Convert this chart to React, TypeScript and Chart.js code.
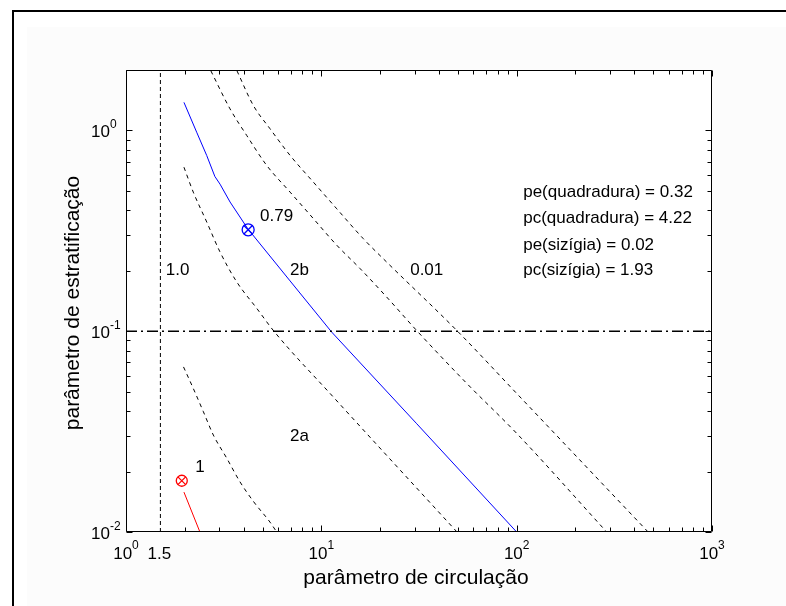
import React, { useEffect, useRef } from "react";
import { Chart, registerables } from "chart.js";
Chart.register(...registerables);

const X_MIN = 1;
const X_MAX = 1000;
const Y_MIN = 0.01;
const Y_MAX = 2;

const xMajorTicks = [1, 10, 100, 1000];
const xMajorExp = ["0", "1", "2", "3"];
const xExtraTicks = [1.5];
const xExtraLabels = ["1.5"];
const yMajorTicks = [0.01, 0.1, 1];
const yMajorExp = ["-2", "-1", "0"];

const xTitle = "parâmetro de circulação";
const yTitle = "parâmetro de estratificação";

// measured blue curve (quadratura)
const blueX = [1.98, 2.3, 2.59, 2.85, 3.03, 3.41, 4.2, 6.92, 11.3, 30.8, 100];
const blueY = [1.38, 0.98, 0.75, 0.59, 0.54, 0.44, 0.324, 0.178, 0.099, 0.0346, 0.01];

// red segment (sizígia)
const redX = [1.98, 2.39];
const redY = [0.0158, 0.01];

// dashed nu curves
const curveAx = [1.97, 2.21, 2.49, 2.8, 3.28, 3.83, 4.49, 5.46, 5.91];
const curveAy = [0.0664, 0.0519, 0.0397, 0.0304, 0.0233, 0.0178, 0.0142, 0.0112, 0.01];
const curveBx = [1.98, 2.21, 2.59, 3.03, 3.69, 4.67, 5.72, 11.5, 49.5];
const curveBy = [0.656, 0.493, 0.35, 0.248, 0.176, 0.13, 0.1, 0.0471, 0.01];
const curveCx = [2.72, 3.41, 4.15, 5.25, 6.92, 9.1, 12.0, 15.8, 21.6, 31, 55.5, 100, 289];
const curveCy = [1.98, 1.28, 0.944, 0.67, 0.493, 0.364, 0.268, 0.205, 0.148, 0.1, 0.055, 0.031, 0.01];
const curveDx = [3.7, 4.49, 5.46, 6.92, 9.1, 12.0, 16.4, 21.6, 49.8, 100, 471];
const curveDy = [1.98, 1.33, 1.02, 0.751, 0.553, 0.407, 0.289, 0.221, 0.1, 0.049, 0.01];

// reference lines
const vLineX = 1.5;
const hLineY = 0.1;

// markers
const quadX = 4.22;
const quadY = 0.32;
const sizX = 1.93;
const sizY = 0.018;

// text annotations (left-aligned at data coords)
const annText = ["1.0", "0.79", "2b", "0.01", "2a", "1"];
const annX = [1.6, 4.86, 6.92, 28.5, 6.92, 2.26];
const annY = [0.2, 0.373, 0.2, 0.2, 0.03, 0.0211];

const legendText = [
  "pe(quadradura) = 0.32",
  "pc(quadradura) = 4.22",
  "pe(sizígia) = 0.02",
  "pc(sizígia) = 1.93",
];
const legendX = 108;
const legendY = [0.493, 0.366, 0.268, 0.201];

const FONT = '"Liberation Sans", Arial, Helvetica, sans-serif';

const zip = (xs: number[], ys: number[]) => xs.map((x, i) => ({ x, y: ys[i] }));

const dashed = (xs: number[], ys: number[]) => ({
  data: zip(xs, ys),
  showLine: true,
  borderColor: "#000",
  borderWidth: 1,
  borderDash: [4, 4],
  pointRadius: 0,
  cubicInterpolationMode: "monotone",
  fill: false,
});

const overlay = {
  id: "overlay",
  beforeDraw(chart: any) {
    const { ctx, chartArea } = chart;
    ctx.save();
    ctx.fillStyle = "#ffffff";
    ctx.fillRect(chartArea.left, chartArea.top, chartArea.right - chartArea.left, chartArea.bottom - chartArea.top);
    ctx.restore();
  },
  afterDraw(chart: any) {
    const { ctx, chartArea } = chart;
    const { left, right, top, bottom } = chartArea;
    const xs = chart.scales.x;
    const ys = chart.scales.y;
    ctx.save();
    ctx.strokeStyle = "#000";
    ctx.lineWidth = 1;
    const L = Math.round(left) + 0.5;
    const R = Math.round(right) - 0.5;
    const T = Math.round(top) + 0.5;
    const B = Math.round(bottom) - 0.5;
    ctx.beginPath();
    ctx.rect(L, T, R - L, B - T);
    ctx.stroke();

    const tick = (px: number, len: number, horiz: boolean) => {
      const p = Math.round(px) + 0.5;
      ctx.beginPath();
      if (horiz) {
        ctx.moveTo(p, B);
        ctx.lineTo(p, B - len);
        ctx.moveTo(p, T);
        ctx.lineTo(p, T + len);
      } else {
        ctx.moveTo(L, p);
        ctx.lineTo(L + len, p);
        ctx.moveTo(R, p);
        ctx.lineTo(R - len, p);
      }
      ctx.stroke();
    };
    for (let d = 1; d < X_MAX; d *= 10) {
      for (let m = 2; m <= 9; m++) tick(xs.getPixelForValue(d * m), 4, true);
    }
    xMajorTicks.forEach((v) => tick(xs.getPixelForValue(v), 6, true));
    for (let d = Y_MIN; d < Y_MAX; d *= 10) {
      for (let m = 2; m <= 9; m++) {
        if (d * m <= Y_MAX) tick(ys.getPixelForValue(d * m), 4, false);
      }
    }
    yMajorTicks.forEach((v) => tick(ys.getPixelForValue(v), 6, false));

    ctx.fillStyle = "#000";
    ctx.textBaseline = "alphabetic";
    ctx.textAlign = "left";
    // x tick labels
    xMajorTicks.forEach((v, i) => {
      const px = xs.getPixelForValue(v);
      ctx.font = `17px ${FONT}`;
      const w1 = ctx.measureText("10").width;
      ctx.font = `12px ${FONT}`;
      const w2 = ctx.measureText(xMajorExp[i]).width;
      const start = px - (w1 + w2) / 2;
      ctx.font = `17px ${FONT}`;
      ctx.fillText("10", start, bottom + 27);
      ctx.font = `12px ${FONT}`;
      ctx.fillText(xMajorExp[i], start + w1, bottom + 17);
    });
    xExtraTicks.forEach((v, i) => {
      const px = xs.getPixelForValue(v);
      ctx.font = `17px ${FONT}`;
      ctx.textAlign = "center";
      ctx.fillText(xExtraLabels[i], px - 1, bottom + 27);
      ctx.textAlign = "left";
    });
    // y tick labels
    yMajorTicks.forEach((v, i) => {
      const py = ys.getPixelForValue(v);
      ctx.font = `17px ${FONT}`;
      const w1 = ctx.measureText("10").width;
      const start = left - 35;
      ctx.fillText("10", start, py + 6.5);
      ctx.font = `12px ${FONT}`;
      ctx.fillText(yMajorExp[i], start + w1, py - 2);
    });

    // annotations
    ctx.font = `17px ${FONT}`;
    ctx.textBaseline = "middle";
    annText.forEach((t, i) => {
      ctx.fillText(t, xs.getPixelForValue(annX[i]), ys.getPixelForValue(annY[i]));
    });
    legendText.forEach((t, i) => {
      ctx.fillText(t, xs.getPixelForValue(legendX), ys.getPixelForValue(legendY[i]));
    });

    // axis titles
    ctx.font = `21px ${FONT}`;
    ctx.textAlign = "center";
    ctx.fillText(xTitle, (left + right) / 2 - 3, bottom + 46);
    ctx.save();
    ctx.translate(73, (top + bottom) / 2 + 2);
    ctx.rotate(-Math.PI / 2);
    ctx.fillText(yTitle, 0, 0);
    ctx.restore();
    ctx.restore();
  },
};

export default function App() {
  const ref = useRef<HTMLCanvasElement>(null);
  useEffect(() => {
    if (!ref.current) return;
    const chart = new Chart(ref.current, {
      type: "scatter",
      data: {
        datasets: [
          {
            data: [
              { x: vLineX, y: Y_MIN },
              { x: vLineX, y: Y_MAX },
            ],
            showLine: true,
            borderColor: "#000",
            borderWidth: 1,
            borderDash: [4, 3],
            pointRadius: 0,
          },
          {
            data: [
              { x: X_MIN, y: hLineY },
              { x: X_MAX, y: hLineY },
            ],
            showLine: true,
            borderColor: "#000",
            borderWidth: 1.5,
            borderDash: [11, 4, 2, 4],
            pointRadius: 0,
          },
          dashed(curveAx, curveAy),
          dashed(curveBx, curveBy),
          dashed(curveCx, curveCy),
          dashed(curveDx, curveDy),
          {
            data: zip(blueX, blueY),
            showLine: true,
            borderColor: "#0000ff",
            borderWidth: 1,
            pointRadius: 0,
            tension: 0,
          },
          {
            data: zip(redX, redY),
            showLine: true,
            borderColor: "#ff0000",
            borderWidth: 1,
            pointRadius: 0,
          },
          {
            data: [{ x: quadX, y: quadY }],
            pointStyle: "circle",
            pointRadius: 6,
            borderColor: "#0000ff",
            backgroundColor: "rgba(0,0,0,0)",
            borderWidth: 1.3,
          },
          {
            data: [{ x: quadX, y: quadY }],
            pointStyle: "crossRot",
            pointRadius: 6,
            borderColor: "#0000ff",
            borderWidth: 1.3,
          },
          {
            data: [{ x: sizX, y: sizY }],
            pointStyle: "circle",
            pointRadius: 5.5,
            borderColor: "#ff0000",
            backgroundColor: "rgba(0,0,0,0)",
            borderWidth: 1.3,
          },
          {
            data: [{ x: sizX, y: sizY }],
            pointStyle: "crossRot",
            pointRadius: 5.5,
            borderColor: "#ff0000",
            borderWidth: 1.3,
          },
        ],
      },
      options: {
        animation: false,
        responsive: false,
        devicePixelRatio: 1,
        layout: { padding: { left: 126, right: 74, top: 70, bottom: 74 } },
        plugins: { legend: { display: false }, tooltip: { enabled: false } },
        events: [],
        scales: {
          x: { type: "logarithmic", min: X_MIN, max: X_MAX, display: false },
          y: { type: "logarithmic", min: Y_MIN, max: Y_MAX, display: false },
        },
      },
      plugins: [overlay],
    } as any);
    return () => chart.destroy();
  }, []);

  return (
    <div style={{ position: "fixed", left: 0, top: 0, width: 786, height: 606, background: "#fff", overflow: "hidden" }}>
      <div style={{ position: "absolute", left: 27, top: 27, right: 0, bottom: 0, background: "#fcfcfc" }} />
      <div style={{ position: "absolute", left: 12, top: 10, right: 0, height: 2, background: "#000" }} />
      <div style={{ position: "absolute", left: 12, top: 10, width: 2, bottom: 0, background: "#000" }} />
      <canvas ref={ref} width={786} height={606} style={{ position: "absolute", left: 0, top: 0, width: 786, height: 606 }} />
    </div>
  );
}
